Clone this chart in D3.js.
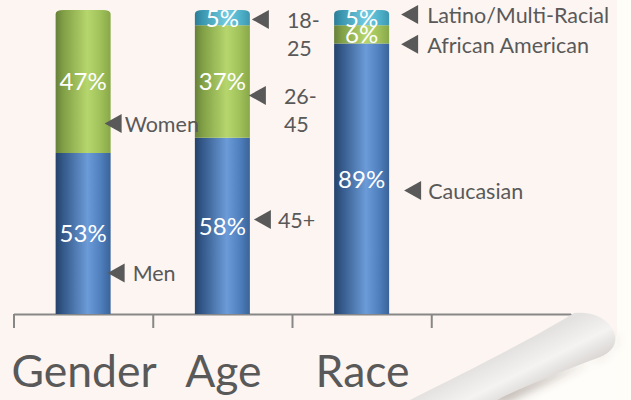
<!DOCTYPE html>
<html><head><meta charset="utf-8">
<script src="https://cdn.jsdelivr.net/npm/d3@7"></script>
<style>html,body{margin:0;padding:0;background:#fefdf8;} svg{display:block;}</style>
</head><body><svg id="c" width="631" height="400"></svg>
<script>
// ---------------- DATA ----------------
const categories   = ["Gender", "Age", "Race"];
const bottomValues = [53, 58, 89];          // Men, 45+, Caucasian
const middleValues = [47, 37, 6];           // Women, 26-45, African American
const topValues    = [0, 5, 5];             // -, 18-25, Latino/Multi-Racial
const bottomNames  = ["Men", "45+", "Caucasian"];
const middleNames  = ["Women", "26-\n45", "African American"];
const topNames     = ["", "18-\n25", "Latino/Multi-Racial"];

// ---------------- LAYOUT (annotation placement) ----------------
// pointer level in value units, triangle tip offset from bar edge, text gap
const pointerLevel = { bottom: [13.5, 31.1, 40.6], middle: [62.7, 71.9, 88.7], top: [null, 96.9, 98.5] };
const pointerDx    = { bottom: [-3, 4, 15],         middle: [-6, -1, 12],       top: [0, 2, 12] };
const textGap      = { bottom: [8, 7, 7],           middle: [3, 18, 9],         top: [0, 18, 9] };

const W = 631, H = 400;
const svg = d3.select("#c");
const defs = svg.append("defs");

// ---------------- background / page ----------------
svg.append("rect").attr("width", W).attr("height", H).attr("fill", "#fefdf8");
svg.append("rect").attr("width", 617).attr("height", H).attr("fill", "#fdf5f1");

// revealed area under the curl
svg.append("path")
  .attr("d", "M617,318 L617,400 L480,400 L598,358 C610,352 616,346 617,330 Z")
  .attr("fill", "#fefdf9");

// shadow under the curl
const blur = defs.append("filter").attr("id", "blur").attr("x", "-20%").attr("y", "-20%").attr("width", "140%").attr("height", "140%");
blur.append("feGaussianBlur").attr("stdDeviation", 5);
svg.append("path")
  .attr("d", "M470,400 L600,358 C612,352 618,344 616,334 L612,350 L505,404 Z")
  .attr("fill", "rgba(90,70,60,0.35)").attr("filter", "url(#blur)");

// ---------------- scales ----------------
const xBand = d3.scaleBand().domain([...categories, ""]).range([13.5, 570.5]).padding(0);
const xEdge = d3.scaleLinear().domain([0, categories.length + 1]).range([13.5, 570.5]);
const y = d3.scaleLinear().domain([0, 100]).range([314, 10]);
const barW = xBand.bandwidth() * 0.395;

// ---------------- gradients ----------------
function grad(id, stops) {
  const g = defs.append("linearGradient").attr("id", id).attr("x1", 0).attr("x2", 1).attr("y1", 0).attr("y2", 0);
  stops.forEach(s => g.append("stop").attr("offset", s[0]).attr("stop-color", s[1]));
}
grad("gBlue",  [[0, "#25426a"], [0.14, "#34598a"], [0.58, "#6b9bd8"], [0.82, "#4f7fbd"], [1, "#3a6398"]]);
grad("gGreen", [[0, "#66803a"], [0.14, "#819f45"], [0.58, "#b6d66d"], [0.82, "#a0c05a"], [1, "#88a748"]]);
grad("gCyan",  [[0, "#2c7c95"], [0.14, "#3b97b0"], [0.58, "#72cbe0"], [0.82, "#50b3cb"], [1, "#3d97af"]]);

const series = [
  { key: "bottom", values: bottomValues, names: bottomNames, fill: "url(#gBlue)" },
  { key: "middle", values: middleValues, names: middleNames, fill: "url(#gGreen)" },
  { key: "top",    values: topValues,    names: topNames,    fill: "url(#gCyan)" }
];
// stacking via d3.stack
const table = categories.map((c, i) => ({ cat: c, bottom: bottomValues[i], middle: middleValues[i], top: topValues[i] }));
const stacked = d3.stack().keys(["bottom", "middle", "top"])(table);

// ---------------- axis ----------------
const axis = d3.axisBottom(xEdge).tickValues(d3.range(categories.length + 2)).tickSize(14).tickSizeOuter(0).tickFormat("");
const gAxis = svg.append("g").attr("transform", "translate(0,314)").call(axis);
gAxis.selectAll("path, line").attr("stroke", "#878787").attr("stroke-width", 2);

// ---------------- bars ----------------
const gBars = svg.append("g");
stacked.forEach((layer, si) => {
  const s = series[si];
  layer.forEach((d, ci) => {
    const v = d[1] - d[0];
    if (v <= 0) return;
    const cx = xBand(categories[ci]) + xBand.bandwidth() / 2;
    const x0 = cx - barW / 2, x1 = cx + barW / 2;
    const yt = y(d[1]), yb = y(d[0]);
    const isTop = d[1] >= 99.99;
    let p;
    if (isTop) {
      const rx = 8, ry = 4;
      p = `M${x0},${yb} L${x0},${yt + ry} Q${x0},${yt} ${x0 + rx},${yt} L${x1 - rx},${yt} Q${x1},${yt} ${x1},${yt + ry} L${x1},${yb} Z`;
    } else {
      p = `M${x0},${yb} L${x0},${yt} L${x1},${yt} L${x1},${yb} Z`;
    }
    gBars.append("path").attr("d", p).attr("fill", s.fill);
    // value label
    gBars.append("text")
      .attr("x", cx).attr("y", (yt + yb) / 2 + 9)
      .attr("text-anchor", "middle")
      .attr("font-family", "Lato, 'Open Sans', sans-serif")
      .attr("font-size", 24).attr("fill", "#ffffff")
      .text(v + "%");
  });
});

// ---------------- annotations ----------------
const gAnn = svg.append("g").attr("font-family", "Lato, 'Open Sans', sans-serif").attr("font-size", 21.5).attr("fill", "#595959");
series.forEach(s => {
  categories.forEach((c, ci) => {
    const name = s.names[ci];
    if (!name) return;
    const cx = xBand(c) + xBand.bandwidth() / 2;
    const tipX = cx + barW / 2 + pointerDx[s.key][ci];
    const ty = y(pointerLevel[s.key][ci]);
    gAnn.append("path")
      .attr("d", `M${tipX},${ty} L${tipX + 17},${ty - 9.5} L${tipX + 17},${ty + 9.5} Z`)
      .attr("fill", "#595959");
    const t = gAnn.append("text").attr("x", tipX + 17 + textGap[s.key][ci]).attr("y", ty + 8.5);
    name.split("\n").forEach((line, li) => {
      t.append("tspan").attr("x", tipX + 17 + textGap[s.key][ci]).attr("dy", li === 0 ? 0 : 28.5).text(line);
    });
  });
});

// ---------------- category labels ----------------
svg.append("g").selectAll("text").data(categories).join("text")
  .attr("x", d => xBand(d) + xBand.bandwidth() / 2 + 1)
  .attr("y", 387)
  .attr("text-anchor", "middle")
  .attr("font-family", "Lato, 'Open Sans', sans-serif")
  .attr("font-size", 44.5).attr("fill", "#595959")
  .text(d => d);

// ---------------- page curl ----------------
const cg = defs.append("linearGradient").attr("id", "curl").attr("gradientUnits", "userSpaceOnUse")
  .attr("x1", 520).attr("y1", 345).attr("x2", 545).attr("y2", 395);
cg.append("stop").attr("offset", 0).attr("stop-color", "#e4e2e0");
cg.append("stop").attr("offset", 0.45).attr("stop-color", "#f4f3f1");
cg.append("stop").attr("offset", 0.8).attr("stop-color", "#dcd9d7");
cg.append("stop").attr("offset", 1).attr("stop-color", "#c9c6c4");
svg.append("path")
  .attr("d", "M410,400 C470,370 530,340 574,313 C592,311 608,318 614,332 C618,344 612,352 600,357 C560,372 520,388 497,400 Z")
  .attr("fill", "url(#curl)");
</script></body></html>
